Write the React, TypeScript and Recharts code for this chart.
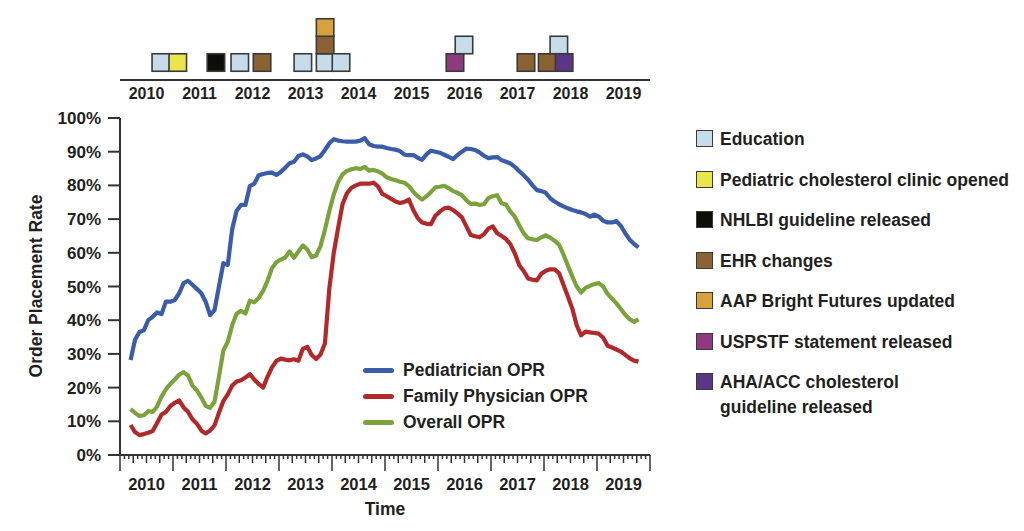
import React from 'react';
import {
  LineChart, Line, XAxis, YAxis, Label,
  ComposedChart, Scatter
} from 'recharts';

const FONT = '"Liberation Sans", Arial, sans-serif';
const INK = '#231f20';

// monthly readings, first month ~ March 2010
const START = 2010.2;
const pediatrician = [
  28.2, 34.2, 36.5, 37, 40, 41, 42.3, 41.8, 45.5, 45.5, 46, 48,
  51, 51.7, 50.5, 49.3, 48, 45.5, 41.5, 43, 50, 56.9, 56.4, 67,
  72.5, 74.2, 74.2, 79.8, 80.5, 83, 83.4, 83.7, 83.8, 83.1, 84, 85.2,
  86.6, 87, 88.7, 89.2, 88.6, 87.5, 88, 88.7, 90.5, 92.5, 93.7, 93.3,
  93.1, 93, 93, 93, 93.3, 94, 92.2, 91.7, 91.5, 91.5, 91.1, 90.8,
  90.6, 90.2, 89.1, 89, 89, 88.2, 87.6, 89.2, 90.3, 90, 89.7, 89.1,
  88.5, 87.8, 89, 90, 90.9, 90.8, 90.5, 89.8, 88.8, 88.1, 88.3, 88.4,
  87.5, 87, 86.5, 85.5, 84.2, 83, 81.7, 80, 78.6, 78.3, 77.8, 76.2,
  75.2, 74.4, 73.8, 73.2, 72.7, 72.3, 72, 71.5, 70.7, 71.3, 70.8, 69.5,
  69, 69, 69.4, 68, 65.8, 63.9, 62.6, 61.6
];
const familyPhysician = [
  8.9, 6.8, 5.9, 6.2, 6.6, 7.1, 9.5, 12, 12.8, 14.5, 15.5, 16.2,
  14.1, 12.8, 10.6, 9.3, 7.3, 6.4, 7.3, 8.8, 12.5, 16, 18, 20.6,
  21.8, 22.2, 23, 24, 22.4, 21.1, 20, 23.2, 26, 27.9, 28.6, 28.3,
  28.1, 28.4, 28, 31.5, 32.1, 29.7, 28.5, 29.8, 33.1, 49.5, 60, 67.5,
  74.5, 77.7, 79.3, 80, 80.5, 80.5, 80.5, 80.8, 79.7, 77.5, 76.8, 76,
  75.2, 74.8, 75.1, 75.8, 72.7, 70.3, 69, 68.6, 68.5, 71, 72.2, 73.2,
  73.4, 72.7, 71.7, 70.5, 67.9, 65.3, 64.9, 64.6, 65.5, 67.2, 67.8, 65.8,
  65, 64.1, 62.5, 59.8, 56.3, 54.6, 52.4, 52, 51.8, 53.8, 54.7, 55.1,
  55.1, 54, 50.5, 47, 43.5, 38.5, 35.5, 36.6, 36.4, 36.2, 36, 34.8,
  32.4, 31.9, 31.3, 30.7, 29.7, 28.7, 28, 27.7
];
const overall = [
  13.6, 12.5, 11.6, 11.8, 13, 12.8, 14.4, 17.3, 19.5, 21.1, 22.4, 23.8,
  24.6, 23.6, 20.6, 19.2, 17.1, 14.6, 14, 15.8, 23.2, 31, 33.6, 38.5,
  41.9, 42.8, 42, 45.8, 45.3, 46.6, 48.7, 51.7, 55.4, 57.2, 58, 58.6,
  60.4, 58.5, 60.4, 62.2, 61, 58.7, 59.2, 62, 66.8, 72.4, 77.3, 81,
  83.3, 84.3, 84.8, 85.1, 84.9, 85.5, 84.4, 84.6, 84.2, 83.5, 82.4, 81.9,
  81.5, 81.1, 80.8, 79.8, 78.1, 76.8, 75.8, 76.8, 78, 79.4, 79.6, 79.9,
  79.2, 78.3, 77.8, 77.1, 75.6, 74.5, 74.6, 74.2, 74.4, 76.2, 76.8, 77.1,
  74.7, 74.3, 72.2, 70.7, 68.1, 65.8, 64.3, 64, 63.8, 64.6, 65.2, 64.5,
  63.6, 62.4, 59.5, 56.2, 53, 50, 48.2, 49.6, 50.2, 50.7, 51, 50,
  47.8, 46.4, 45, 43.3, 41.6, 40.3, 39.5, 40.3
];

const YEARS = [2010, 2011, 2012, 2013, 2014, 2015, 2016, 2017, 2018, 2019];
const Y_TICKS = [0, 10, 20, 30, 40, 50, 60, 70, 80, 90, 100];

const SERIES = [
  { key: 'ped', name: 'Pediatrician OPR', color: '#3b5ca8' },
  { key: 'fam', name: 'Family Physician OPR', color: '#b1292b' },
  { key: 'all', name: 'Overall OPR', color: '#7ba33c' },
];

const EVENT_TYPES = [
  { id: 'edu', label: 'Education', color: '#c6dcea' },
  { id: 'clinic', label: 'Pediatric cholesterol clinic opened', color: '#e9e64c' },
  { id: 'nhlbi', label: 'NHLBI guideline released', color: '#0e0d09' },
  { id: 'ehr', label: 'EHR changes', color: '#8a6233' },
  { id: 'aap', label: 'AAP Bright Futures updated', color: '#d7a13c' },
  { id: 'uspstf', label: 'USPSTF statement released', color: '#8e3a80' },
  { id: 'aha', label: 'AHA/ACC cholesterol\nguideline released', color: '#5b3687' },
];

// when each event happened and how high it is stacked
const EVENT_TIME = [2010.77, 2011.09, 2011.81, 2012.26, 2012.68, 2013.45, 2013.87, 2013.87, 2013.87, 2014.17, 2016.32, 2016.49, 2017.66, 2018.06, 2018.28, 2018.38];
const EVENT_ROW = [1, 1, 1, 1, 1, 1, 1, 2, 3, 1, 1, 2, 1, 1, 2, 1];
const EVENT_KIND = ['edu', 'clinic', 'nhlbi', 'edu', 'ehr', 'edu', 'edu', 'ehr', 'aap', 'edu', 'uspstf', 'edu', 'ehr', 'ehr', 'edu', 'aha'];

const colorOf = (id: string) => EVENT_TYPES.find(e => e.id === id)!.color;

const lineData = pediatrician.map((v, i) => ({
  t: START + i / 12,
  ped: v,
  fam: familyPhysician[i],
  all: overall[i],
}));

const eventData = EVENT_TIME.map((t, i) => ({ t, row: EVENT_ROW[i], fill: colorOf(EVENT_KIND[i]) }));

const monthTicks = YEARS.flatMap(y => Array.from({ length: 12 }, (_, m) => y + m / 12)).concat([2020]);

const MonthTick = (props: any) => {
  const { x, y, payload } = props;
  const m = Math.round((payload.value - 2010) * 12);
  const len = m % 12 === 0 ? 16 : m % 3 === 0 ? 8 : 4;
  const year = YEARS[Math.floor(m / 12)];
  return (
    <g>
      <line x1={x} y1={y} x2={x} y2={y + len} stroke="#333" strokeWidth={1.5} />
      {m % 12 === 6 && year && (
        <text x={x} y={y + 35} textAnchor="middle" fontSize={16.5} fontWeight="bold" fill={INK} fontFamily={FONT}>
          {year}
        </text>
      )}
    </g>
  );
};

const Square = (props: any) => {
  const { cx, cy, payload } = props;
  const s = 17.5;
  return <rect x={cx - s / 2} y={cy - s / 2} width={s} height={s} fill={payload.fill} stroke="#3a3a3a" strokeWidth={1.6} />;
};

export default function App() {
  return (
    <div style={{ position: 'absolute', left: 0, top: 0, width: 1024, height: 531, background: '#fff', fontFamily: FONT, color: INK }}>
      {/* event timeline */}
      <div style={{ position: 'absolute', left: 0, top: 0 }}>
        <ComposedChart width={1024} height={110} margin={{ top: 10, right: 374, left: 120, bottom: 0 }} data={eventData}>
          <XAxis
            dataKey="t" type="number" domain={[2010, 2020]}
            ticks={YEARS.map(y => y + 0.5)}
            tickFormatter={(v: number) => String(Math.floor(v))}
            interval={0} height={30} tickLine={false} tickSize={0} tickMargin={8}
            axisLine={{ stroke: '#333', strokeWidth: 2 }}
            tick={{ fontSize: 16, fontWeight: 'bold', fill: INK, fontFamily: FONT }}
          />
          <YAxis hide domain={[0, 4]} type="number" dataKey="row" />
          <Scatter dataKey="row" shape={<Square />} isAnimationActive={false} />
        </ComposedChart>
      </div>

      {/* rates */}
      <div style={{ position: 'absolute', left: 0, top: 0 }}>
        <LineChart width={1024} height={531} data={lineData} margin={{ top: 118, right: 374, left: 20, bottom: 16 }}>
          <XAxis
            dataKey="t" type="number" domain={[2010, 2020]} ticks={monthTicks} interval={0}
            height={60} tickLine={false} tickSize={0} tickMargin={0}
            axisLine={{ stroke: '#333', strokeWidth: 2 }}
            tick={<MonthTick />}
          >
            <Label content={() => (
              <text x={385} y={515} textAnchor="middle" fontSize={17.5} fontWeight="bold" fill={INK} fontFamily={FONT}>Time</text>
            )} />
          </XAxis>
          <YAxis
            type="number" domain={[0, 100]} ticks={Y_TICKS} interval={0} width={100}
            tickFormatter={(v: number) => `${v}%`}
            tickSize={12} tickMargin={7}
            axisLine={{ stroke: '#333', strokeWidth: 2 }}
            tickLine={{ stroke: '#333', strokeWidth: 2 }}
            tick={{ fontSize: 17, fontWeight: 'bold', fill: INK, fontFamily: FONT }}
          >
            <Label content={() => (
              <text x={36} y={286} transform="rotate(-90 36 286)" textAnchor="middle" dominantBaseline="central"
                fontSize={17.5} fontWeight="bold" fill={INK} fontFamily={FONT}>Order Placement Rate</text>
            )} />
          </YAxis>
          {[...SERIES].reverse().map(s => (
            <Line key={s.key} type="linear" dataKey={s.key} name={s.name} stroke={s.color} strokeWidth={4.2}
              strokeLinejoin="round" dot={false} isAnimationActive={false} />
          ))}
        </LineChart>
      </div>

      {/* line legend */}
      <div style={{ position: 'absolute', left: 363, top: 357 }}>
        {SERIES.map(s => (
          <div key={s.key} style={{ display: 'flex', alignItems: 'center', height: 26 }}>
            <div style={{ width: 31, height: 5, borderRadius: 3, background: s.color, marginRight: 9 }} />
            <span style={{ fontSize: 17.5, fontWeight: 'bold', whiteSpace: 'nowrap' }}>{s.name}</span>
          </div>
        ))}
      </div>

      {/* event legend */}
      <div style={{ position: 'absolute', left: 696, top: 120 }}>
        {EVENT_TYPES.map(e => (
          <div key={e.id} style={{ display: 'flex', alignItems: 'flex-start', height: 40.5 }}>
            <div style={{ width: 15, height: 15, background: e.color, border: '1.6px solid #3a3a3a', marginRight: 7, marginTop: 10 }} />
            <span style={{ fontSize: 17.5, fontWeight: 'bold', whiteSpace: 'pre', lineHeight: '25px', marginTop: 7 }}>{e.label}</span>
          </div>
        ))}
      </div>
    </div>
  );
}
